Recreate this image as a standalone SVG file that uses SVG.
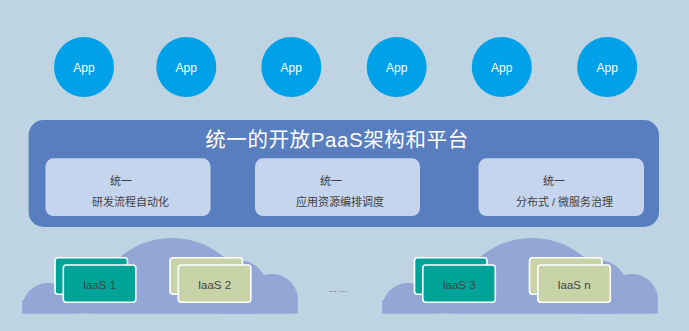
<svg xmlns="http://www.w3.org/2000/svg" width="689" height="331" viewBox="0 0 689 331">
<defs>
<style>
.app{fill:#00a1e9}
.appt{font-family:"Liberation Sans","Noto Sans CJK SC",sans-serif;font-size:12px;fill:#ffffff;text-anchor:middle}
.cjk{font-family:"Liberation Sans","Noto Sans CJK SC",sans-serif}
.inner{fill:#c5d5ee}
.it{font-size:11px;fill:#3f3f3f;text-anchor:middle}
.cloud{fill:#93a6d6}
.teal{fill:#00a398;stroke:#ffffff;stroke-width:1.6}
.olive{fill:#c9d3a8;stroke:#ffffff;stroke-width:1.6}
.iaas{font-family:"Liberation Sans",sans-serif;font-size:11.5px;fill:#444444;text-anchor:middle}
</style>
<clipPath id="cclip"><rect x="0" y="0" width="689" height="313.5"/></clipPath>
<g id="cloudshape">
<g clip-path="url(#cclip)">
<circle cx="48" cy="309" r="26"/>
<circle cx="172" cy="318" r="80"/>
<circle cx="238" cy="290" r="30"/>
<circle cx="272" cy="300" r="26"/>
<rect x="22.3" y="300" width="275.5" height="14"/>
</g>
</g>
</defs>
<rect x="0" y="0" width="689" height="331" fill="#bfd4e2"/>

<g id="app1"><circle class="app" cx="84" cy="67" r="30"/><text class="appt" x="84" y="71.5">App</text></g>
<g id="app2"><circle class="app" cx="186.3" cy="67" r="30"/><text class="appt" x="186.3" y="71.5">App</text></g>
<g id="app3"><circle class="app" cx="291.3" cy="67" r="30"/><text class="appt" x="291.3" y="71.5">App</text></g>
<g id="app4"><circle class="app" cx="396.7" cy="67" r="30"/><text class="appt" x="396.7" y="71.5">App</text></g>
<g id="app5"><circle class="app" cx="501.8" cy="67" r="30"/><text class="appt" x="501.8" y="71.5">App</text></g>
<g id="app6"><circle class="app" cx="607.2" cy="67" r="30"/><text class="appt" x="607.2" y="71.5">App</text></g>

<g id="paas">
<rect x="28.6" y="120" width="630.4" height="107" rx="15" fill="#587ebf"/>
<text class="cjk" x="337" y="147" font-size="20.5" fill="#ffffff" text-anchor="middle" letter-spacing="0.6">统一的开放PaaS架构和平台</text>
</g>

<g id="box1">
<rect class="inner" x="45.5" y="158.3" width="165" height="57.7" rx="8"/>
<text class="cjk it" x="121" y="185">统一</text>
<text class="cjk it" x="130.5" y="205.5">研发流程自动化</text>
</g>
<g id="box2">
<rect class="inner" x="255" y="158.3" width="165" height="57.7" rx="8"/>
<text class="cjk it" x="331" y="185">统一</text>
<text class="cjk it" x="340" y="205.5">应用资源编排调度</text>
</g>
<g id="box3">
<rect class="inner" x="478.5" y="158.3" width="165.5" height="57.7" rx="8"/>
<text class="cjk it" x="554" y="185">统一</text>
<text class="cjk it" x="564.5" y="205.5">分布式 / 微服务治理</text>
</g>

<g id="cloud1" class="cloud"><use href="#cloudshape"/></g>
<g id="cloud2" class="cloud"><use href="#cloudshape" transform="translate(360,0)"/></g>

<g id="iaas1">
<rect class="teal" x="55" y="257.7" width="72.5" height="36.5" rx="3"/>
<rect class="teal" x="63.3" y="265" width="72.5" height="37.3" rx="3"/>
<text class="iaas" x="99.5" y="289">IaaS 1</text>
</g>
<g id="iaas2">
<rect class="olive" x="170" y="257.7" width="72.5" height="36.5" rx="3"/>
<rect class="olive" x="178.3" y="265" width="72.5" height="37.3" rx="3"/>
<text class="iaas" x="214.5" y="289">IaaS 2</text>
</g>
<g id="ellipsis">
<text x="338" y="292" font-family="Liberation Sans,sans-serif" font-size="9" fill="#555" text-anchor="middle">... ...</text>
</g>
<g id="iaas3">
<rect class="teal" x="414.5" y="257.7" width="72.5" height="36.5" rx="3"/>
<rect class="teal" x="422.8" y="265" width="72.5" height="37.3" rx="3"/>
<text class="iaas" x="459" y="289">IaaS 3</text>
</g>
<g id="iaasn">
<rect class="olive" x="529.5" y="257.7" width="72.5" height="36.5" rx="3"/>
<rect class="olive" x="537.8" y="265" width="72.5" height="37.3" rx="3"/>
<text class="iaas" x="574" y="289">IaaS n</text>
</g>
</svg>
